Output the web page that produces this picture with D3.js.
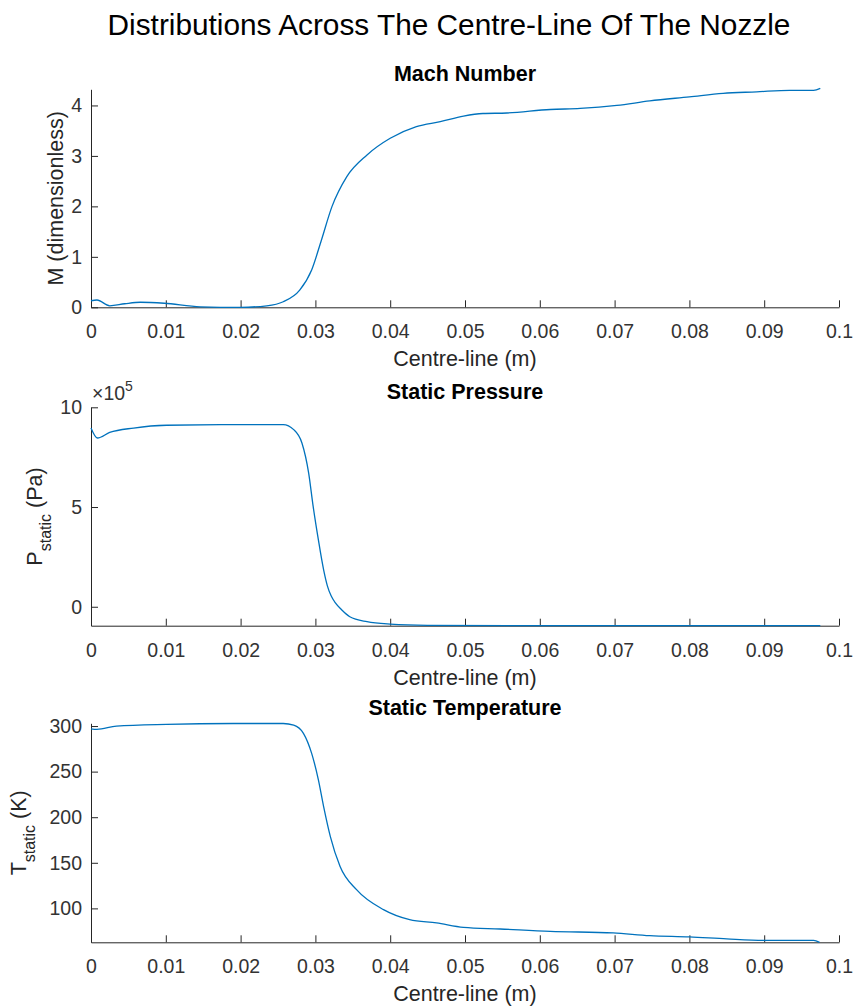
<!DOCTYPE html>
<html>
<head>
<meta charset="utf-8">
<script src="https://cdn.jsdelivr.net/npm/d3@7"></script>
<style>
  body { margin: 0; background: #fff; }
  svg { display: block; font-family: "Liberation Sans", Arial, sans-serif; }
  .axis path, .axis line { stroke: #262626; stroke-width: 1; }
  .axis text { fill: #333; font-size: 19.5px; }
</style>
</head>
<body>
<div id="chart"></div>
<script>
// centre-line positions (m) and values
const machX = [0, 0.0008, 0.0025, 0.0045, 0.0066, 0.0098, 0.0146, 0.02, 0.0235, 0.0257, 0.0279, 0.0295, 0.0308, 0.0322, 0.0342, 0.0369, 0.040, 0.0435, 0.0467, 0.0498, 0.0524, 0.0556, 0.0614, 0.0654, 0.0703, 0.0747, 0.080, 0.0845, 0.089, 0.0934, 0.0966, 0.0975];
const machY = [0.13, 0.145, 0.03, 0.07, 0.10, 0.08, 0.01, 0.0, 0.03, 0.11, 0.34, 0.74, 1.33, 1.99, 2.59, 3.02, 3.35, 3.58, 3.68, 3.79, 3.84, 3.85, 3.92, 3.94, 4.0, 4.09, 4.17, 4.24, 4.27, 4.30, 4.30, 4.34];

const pressX = [0, 0.00085, 0.0025, 0.0057, 0.0101, 0.019, 0.0257, 0.0271, 0.0282, 0.0291, 0.0297, 0.0304, 0.0311, 0.0316, 0.0321, 0.0327, 0.0335, 0.0346, 0.0369, 0.040, 0.045, 0.06, 0.0975];
const pressY = [896000, 846000, 874000, 896000, 910000, 913000, 913000, 888000, 821000, 670000, 503000, 335000, 185000, 105000, 55000, 18000, -15000, -50000, -75000, -87000, -93000, -95000, -95000];

const tempX = [0, 0.0008, 0.0034, 0.0101, 0.019, 0.0257, 0.0271, 0.0284, 0.0295, 0.0304, 0.0311, 0.032, 0.0333, 0.0355, 0.0391, 0.0426, 0.0462, 0.0498, 0.0547, 0.0614, 0.0698, 0.0747, 0.080, 0.085, 0.0899, 0.0966, 0.0974];
const tempY = [297, 296.4, 300, 301.9, 302.8, 302.8, 301, 292, 270, 241, 211.7, 178.8, 146, 120.5, 98.6, 87.6, 84, 79.2, 77.4, 74.8, 73.1, 70.1, 68.7, 66.5, 65, 65, 62.8];

const xTicks = [0, 0.01, 0.02, 0.03, 0.04, 0.05, 0.06, 0.07, 0.08, 0.09, 0.1];
const machTicks = [0, 1, 2, 3, 4];
const pressTicks = [0, 500000, 1000000];
const tempTicks = [100, 150, 200, 250, 300];

const mainTitle = "Distributions Across The Centre-Line Of The Nozzle";
const xLabel = "Centre-line (m)";

const svgWidth = 854, svgHeight = 1007;
const lineColour = "#0072BD";

const svg = d3.select("#chart").append("svg")
    .attr("width", svgWidth)
    .attr("height", svgHeight);

svg.append("text")
    .attr("x", 449)
    .attr("y", 35)
    .attr("text-anchor", "middle")
    .style("font-size", "29.8px")
    .style("fill", "#000")
    .text(mainTitle);

const x = d3.scaleLinear().domain([0, 0.1]).range([91, 839]);

const panels = [
    { title: "Mach Number", xs: machX, ys: machY, domain: [0, 4.32], top: 89.3, bottom: 307.3,
      ticks: machTicks, fmt: d => d, label: "M (dimensionless)", labelX: 63 },
    { title: "Static Pressure", xs: pressX, ys: pressY, domain: [-95000, 1000000], top: 407.3, bottom: 625.7,
      ticks: pressTicks, fmt: d => d / 1e5, label: "P", sub: "static", unit: " (Pa)", labelX: 42, exponent: true },
    { title: "Static Temperature", xs: tempX, ys: tempY, domain: [62.8, 303], top: 723.3, bottom: 942.3,
      ticks: tempTicks, fmt: d => d, label: "T", sub: "static", unit: " (K)", labelX: 26 }
];

panels.forEach(p => {
    const y = d3.scaleLinear().domain(p.domain).range([p.bottom, p.top]);
    const g = svg.append("g");

    // bottom axis, ticks pointing inward
    g.append("g")
        .attr("class", "axis")
        .attr("transform", `translate(0,${p.bottom})`)
        .call(d3.axisBottom(x).tickValues(xTicks).tickSizeInner(-7).tickSizeOuter(0).tickPadding(17)
            .tickFormat(d => d3.format("")(+d.toFixed(2))));

    // left axis
    g.append("g")
        .attr("class", "axis")
        .attr("transform", `translate(${x(0)},0)`)
        .call(d3.axisLeft(y).tickValues(p.ticks).tickSizeInner(-7).tickSizeOuter(0).tickPadding(9)
            .tickFormat(p.fmt));

    const line = d3.line()
        .x((d, i) => x(p.xs[i]))
        .y(d => y(d))
        .curve(d3.curveMonotoneX);

    g.append("path")
        .datum(p.ys)
        .attr("fill", "none")
        .attr("stroke", lineColour)
        .attr("stroke-width", 1.3)
        .attr("d", line);

    g.append("text")
        .attr("x", 465)
        .attr("y", p.top - 8)
        .attr("text-anchor", "middle")
        .style("font-size", "21.5px")
        .style("font-weight", "bold")
        .style("fill", "#000")
        .text(p.title);

    g.append("text")
        .attr("x", 465)
        .attr("y", p.bottom + 59)
        .attr("text-anchor", "middle")
        .style("font-size", "21.5px")
        .style("fill", "#262626")
        .text(xLabel);

    const yl = g.append("text")
        .attr("transform", `translate(${p.labelX},${(p.top + p.bottom) / 2}) rotate(-90)`)
        .attr("text-anchor", "middle")
        .style("font-size", "21.5px")
        .style("fill", "#262626");
    yl.append("tspan").text(p.label);
    if (p.sub) {
        yl.append("tspan").attr("dy", 9).style("font-size", "16px").text(p.sub);
        yl.append("tspan").attr("dy", -9).text(p.unit);
    }

    if (p.exponent) {
        const ex = g.append("text")
            .attr("x", 92)
            .attr("y", p.top - 7)
            .style("font-size", "19.5px")
            .style("fill", "#333");
        ex.append("tspan").text("\u00d710");
        ex.append("tspan").attr("dy", -9).style("font-size", "14px").text("5");
    }
});
</script>
</body>
</html>
